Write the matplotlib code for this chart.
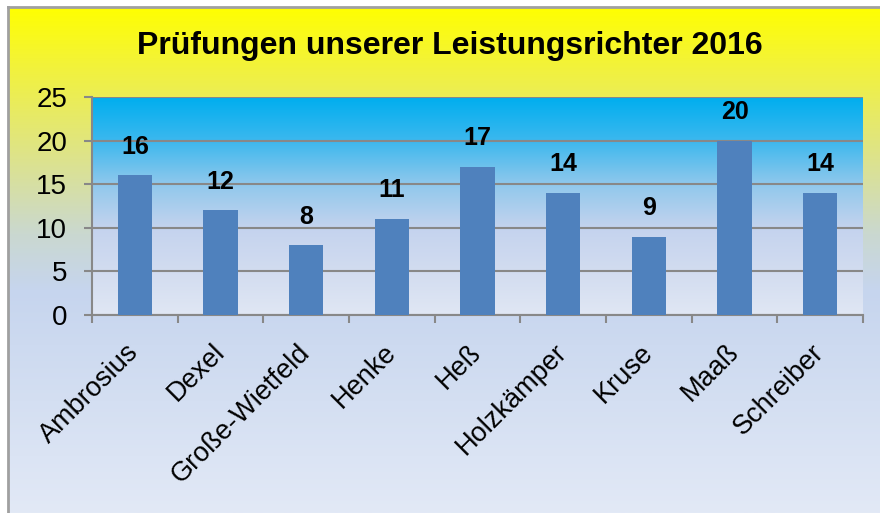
import numpy as np
import matplotlib
matplotlib.use("Agg")
import matplotlib.pyplot as plt
from matplotlib.colors import LinearSegmentedColormap

plt.rcParams['font.family'] = ['Liberation Sans', 'DejaVu Sans']

names = ['Ambrosius', 'Dexel', 'Große-Wietfeld', 'Henke', 'Heß',
         'Holzkämper', 'Kruse', 'Maaß', 'Schreiber']
pruefungen = [16, 12, 8, 11, 17, 14, 9, 20, 14]
y_ticks = [0, 5, 10, 15, 20, 25]
title = 'Prüfungen unserer Leistungsrichter 2016'

W, H = 880, 513
fig = plt.figure(figsize=(W / 100, H / 100), dpi=100)
fig.patch.set_facecolor('white')

# outer chart background: yellow -> light blue
bg_cmap = LinearSegmentedColormap.from_list('bg', [
    (0.0, '#FFFF00'), (0.12, '#F2F23C'), (0.30, '#DDE38C'),
    (0.45, '#CAD8D0'), (0.56, '#C6D5EE'), (1.0, '#E2E9F6')])
bg = fig.add_axes([8 / W, 0, 1 - 8 / W, 1 - 7 / H])
bg.imshow(np.linspace(0, 1, 256).reshape(-1, 1), cmap=bg_cmap,
          aspect='auto', extent=[0, 1, 0, 1], origin='upper')
bg.set_xticks([])
bg.set_yticks([])
for s in ['right', 'bottom']:
    bg.spines[s].set_visible(False)
for s in ['left', 'top']:
    bg.spines[s].set_color('#A0A0A0')
    bg.spines[s].set_linewidth(2)

# plot area
ax = fig.add_axes([92 / W, 1 - 315 / H, (863 - 92) / W, (315 - 97) / H])
ax.set_xlim(-0.5, len(names) - 0.5)
ax.set_ylim(0, 25)
plot_cmap = LinearSegmentedColormap.from_list('pa', [
    (0.0, '#00AEEF'), (0.2, '#3CB8EE'), (0.4, '#90C8EC'),
    (0.6, '#C4D3EE'), (0.8, '#D2DCF0'), (1.0, '#E0E7F4')])
ax.imshow(np.linspace(0, 1, 256).reshape(-1, 1), cmap=plot_cmap,
          aspect='auto', extent=[-0.5, len(names) - 0.5, 0, 25],
          origin='upper', zorder=0)

x = np.arange(len(names))
ax.bar(x, pruefungen, width=0.4, color='#4F81BD', zorder=3)
for xi, v in zip(x, pruefungen):
    ax.annotate(str(v), (xi, v), xytext=(0, 12), textcoords='offset points',
                ha='center', va='bottom', fontsize=18, fontweight='bold',
                zorder=4)

ax.set_yticks(y_ticks)
ax.set_yticklabels([str(t) for t in y_ticks], fontsize=20)
ax.yaxis.grid(True, color='#888888', linewidth=1.5, zorder=1)
ax.set_axisbelow(False)
ax.tick_params(axis='y', length=6, width=1.5, color='#888888', pad=12)

ax.set_xticks(x)
ax.set_xticklabels(names, rotation=45, ha='right', va='center',
                   rotation_mode='anchor', fontsize=19.5)
ax.tick_params(axis='x', which='major', length=0, pad=24)
ax.set_xticks(np.arange(-0.5, len(names)), minor=True)
ax.tick_params(axis='x', which='minor', length=6, width=1.5,
               color='#888888', direction='out')

ax.spines['top'].set_visible(False)
ax.spines['right'].set_visible(False)
for s in ['left', 'bottom']:
    ax.spines[s].set_color('#888888')
    ax.spines[s].set_linewidth(1.5)
for gl in ax.get_ygridlines():
    gl.set_zorder(1)

fig.text(450 / W, 1 - 46 / H, title, ha='center', va='center',
         fontsize=23, fontweight='bold')

fig.savefig('out.png', dpi=100)
